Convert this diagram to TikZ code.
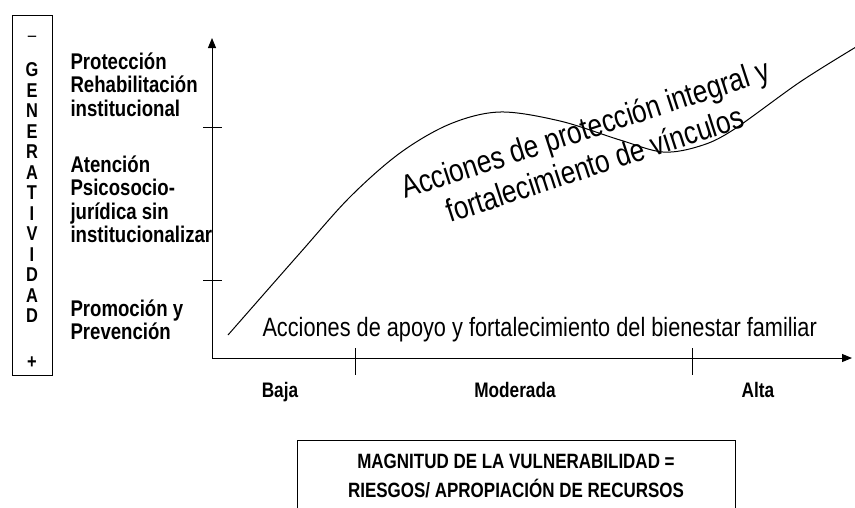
\documentclass[tikz,border=0pt]{standalone}
\usepackage{fontspec}
\setmainfont{Liberation Sans}[FakeStretch=0.82]
\usetikzlibrary{positioning,arrows.meta}
\tikzset{
  nivel/.style={anchor=base west,inner sep=0pt,font=\bfseries\fontsize{22.7}{24}\selectfont},
  rango/.style={anchor=base,inner sep=0pt,font=\bfseries\fontsize{21}{24}\selectfont},
  letra/.style={inner sep=0pt,font=\bfseries\fontsize{20}{22}\selectfont},
  accion/.style={anchor=base west,inner sep=0pt,font=\fontsize{32}{36}\selectfont},
  marca/.style={line width=0.8pt},
  flecha/.style={-{Triangle[length=10pt,width=8pt]}}
}
\begin{document}
\begin{tikzpicture}[x=1pt,y=-1pt,line width=1pt]
\useasboundingbox (0,0) rectangle (855,507);
% recuadro generatividad
\node (gen) [draw,minimum width=40pt,minimum height=360pt,inner sep=0pt] at (32,195) {};
\node (menos) [inner sep=0pt,font=\fontsize{18.5}{20}\selectfont] at (32,39) {–};
\foreach \l [count=\i] in {G,E,N,E,R,A,T,I,V,I,D,A,D}
  \node (g\i) [letra] at (32,49.5+20.5*\i) {\l};
\node (mas) [letra] at (32,363) {+};
% ejes
\coordinate (O) at (212,358);
\coordinate (Ytop) at (212,38);
\coordinate (Xend) at (852,358);
\draw[flecha] (O) -- (Ytop); %eje vertical
\draw[flecha] (O) -- (Xend); %eje horizontal
\draw[marca] (203,127) -- (222,127); %marca alta
\draw[marca] (203,280) -- (222,280); %marca baja
\draw[marca] (355,348) -- (355,375); %marca baja-moderada
\draw[marca] (692,348) -- (692,375); %marca moderada-alta
% niveles
\node (prot1) [nivel] at (70,69) {Protección};
\node (prot2) [nivel] at (70,92.5) {Rehabilitación};
\node (prot3) [nivel] at (70,116) {institucional};
\node (aten1) [nivel] at (70,172) {Atención};
\node (aten2) [nivel] at (70,195.5) {Psicosocio-};
\node (aten3) [nivel] at (70,219) {jurídica sin};
\node (aten4) [nivel] at (70,242.5) {institucionalizar};
\node (prom1) [nivel] at (70,316) {Promoción y};
\node (prom2) [nivel] at (70,339.5) {Prevención};
% rangos
\node (baja) [rango] at (280,397) {Baja};
\node (mod) [rango] at (515,397) {Moderada};
\node (alta) [rango] at (758,397) {Alta};
% curva
\draw plot[smooth,tension=0.55] coordinates {(228,335) (300,253) (350,197) (400,153) (450,124) (500,112) (560,121) (620,140) (663,152) (700,146) (733,130) (800,82) (856,47)};
\node (integ1) [accion,rotate=18] at (405,199) {Acciones de protección integral y};
\node (integ2) [accion,rotate=18] at (450,223) {fortalecimiento de vínculos};
\node (apoyo) [accion,font=\fontsize{26.5}{30}\selectfont] at (262,336) {Acciones de apoyo y fortalecimiento del bienestar familiar};
% magnitud
\draw (297,510) |- (735,440) -- (735,510); %recuadro abierto abajo
\node (mag1) [rango,font=\bfseries\fontsize{20.7}{24}\selectfont] at (516,468) {MAGNITUD DE LA VULNERABILIDAD =};
\node (mag2) [rango,font=\bfseries\fontsize{20.7}{24}\selectfont] at (516,497) {RIESGOS/ APROPIACIÓN DE RECURSOS};
\end{tikzpicture}
\end{document}
